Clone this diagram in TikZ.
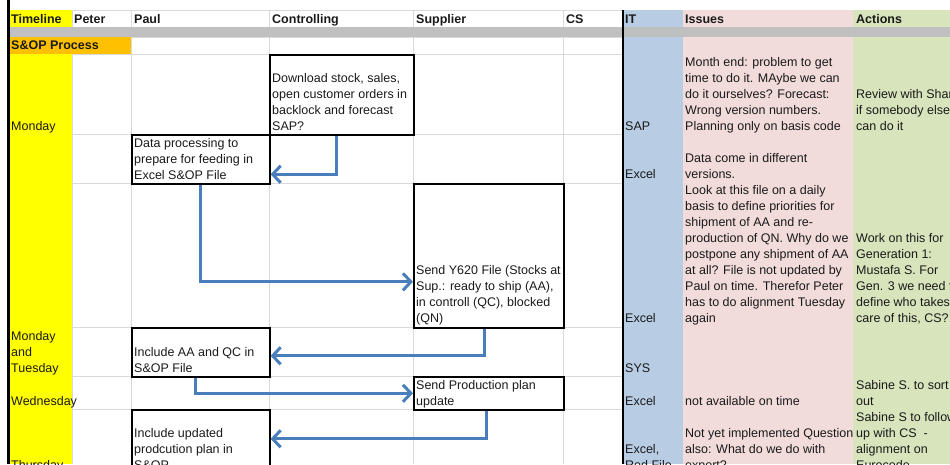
\documentclass[tikz,border=0pt]{standalone}
\usepackage{fontspec}
\setmainfont{Liberation Sans}
\usepackage{tikz}
\usetikzlibrary{arrows.meta,positioning,calc}
\definecolor{timeyellow}{HTML}{FFFF00}
\definecolor{soporange}{HTML}{FFC000}
\definecolor{bandgray}{HTML}{C0C0C0}
\definecolor{gridgray}{HTML}{DADADA}
\definecolor{itblue}{HTML}{B8CCE4}
\definecolor{issuepink}{HTML}{F2DCDB}
\definecolor{actiongreen}{HTML}{D8E4BC}
\definecolor{flowblue}{HTML}{4A7EBB}
\definecolor{inkgray}{HTML}{1A1A1A}

\begin{document}
\begin{tikzpicture}[x=1pt, y=-1pt,
    cell/.style={anchor=base west, inner sep=0pt, align=left, text=inkgray,
                 font=\fontsize{12.5}{16}\selectfont},
    head/.style={cell, font=\fontsize{12.5}{16}\selectfont\bfseries},
    taskbox/.style={rectangle, draw=black, line width=1.6pt, inner sep=0pt,
                    anchor=north west},
    grid/.style={draw=gridgray, line width=0.8pt},
    flow/.style={draw=flowblue, line width=3pt,
                 -{Straight Barb[length=8pt, width=17pt]}}
]
\useasboundingbox (0,0) rectangle (950,464);
\clip (0,0) rectangle (950,464);

% sheet grid
\foreach \gy in {10,27,37,54,134,183,327,376,409}
  \draw[grid] (10,\gy) -- (622,\gy);
\foreach \gx in {72,131,269,413,563}
  \draw[grid] (\gx,10) -- (\gx,464);

% coloured columns
\fill[timeyellow] (10,10) rectangle (72,27);
\fill[timeyellow] (10,54) rectangle (72,464);
\fill[soporange] (10,37) rectangle (131,54);
\fill[itblue] (623,10) rectangle (683,464);
\fill[issuepink] (683,10) rectangle (853,464);
\fill[actiongreen] (853,10) rectangle (950,464);
\fill[bandgray] (10,27) rectangle (950,37);
\draw[black, line width=2.5pt] (8.5,0) -- (8.5,464);
\draw[black, line width=2.5pt] (623,10) -- (623,464);

% header
\node[head] (hTime) at (11,23) {Timeline};
\node[head] (hPeter) at (74,23) {Peter};
\node[head] (hPaul) at (134,23) {Paul};
\node[head] (hCtrl) at (272,23) {Controlling};
\node[head] (hSup) at (416,23) {Supplier};
\node[head] (hCS) at (566,23) {CS};
\node[head] (hIT) at (625,23) {IT};
\node[head] (hIss) at (685,23) {Issues};
\node[head] (hAct) at (856,23) {Actions};
\node[head] (sop) at (11,49.5) {S\&OP Process};

% timeline (y = baseline of last line)
\node[cell] (tMon) at (11,130) {Monday};
\node[cell] (tMonTue) at (11,372) {Monday\\and\\Tuesday};
\node[cell] (tWed) at (11,405) {Wednesday};
\node[cell] (tThu) at (11,469) {Thursday};

% process steps
\node[taskbox, minimum width=144pt, minimum height=80pt] (dl) at (269,54) {};
\node[cell] (dlText) at (272,130) {Download stock, sales,\\open customer orders in\\backlock and forecast\\SAP?};
\node[taskbox, minimum width=138pt, minimum height=49pt] (dp) at (131,134) {};
\node[cell] (dpText) at (134,179) {Data processing to\\prepare for feeding in\\Excel S\&OP File};
\node[taskbox, minimum width=150pt, minimum height=144pt] (yf) at (413,183) {};
\node[cell] (yfText) at (416,322.5) {Send Y620 File (Stocks at\\Sup.: ready to ship (AA),\\in controll (QC), blocked\\(QN)};
\node[taskbox, minimum width=138pt, minimum height=49pt] (inc) at (131,327) {};
\node[cell] (incText) at (134,372) {Include AA and QC in\\S\&OP File};
\node[taskbox, minimum width=150pt, minimum height=33pt] (pp) at (413,376) {};
\node[cell] (ppText) at (416,405) {Send Production plan\\update};
\node[taskbox, minimum width=138pt, minimum height=64pt] (up) at (131,409) {};
\node[cell] (upText) at (134,469) {Include updated\\prodcution plan in\\S\&OP};

\draw[flow] ([xshift=-5pt]dl.south) |- ([yshift=-15pt]dp.east);
\draw[flow] (dp.south) |- ([yshift=-26pt]yf.west);
\draw[flow] ([xshift=-4pt]yf.south) |- ([yshift=-3.5pt]inc.east);
\draw[flow] ([xshift=-5pt]inc.south) |- (pp.west);
\draw[flow] ([xshift=-2pt]pp.south) |- ([yshift=3pt]up.east);

% IT
\node[cell] (itSap) at (625,130) {SAP};
\node[cell] (itExA) at (625,178.5) {Excel};
\node[cell] (itExB) at (625,322.5) {Excel};
\node[cell] (itSys) at (625,372) {SYS};
\node[cell] (itExC) at (625,405) {Excel};
\node[cell] (itExD) at (625,469) {Excel,\\Red File};

% issues
\node[cell] (issA) at (685,130.5) {Month end: problem to get\\time to do it. MAybe we can\\do it ourselves? Forecast:\\Wrong version numbers.\\Planning only on basis code};
\node[cell] (issB) at (685,322.5) {Data come in different\\versions.\\Look at this file on a daily\\basis to define priorities for\\shipment of AA and re-\\production of QN. Why do we\\postpone any shipment of AA\\at all? File is not updated by\\Paul on time. Therefor Peter\\has to do alignment Tuesday\\again};
\node[cell] (issC) at (685,405) {not available on time};
\node[cell] (issD) at (685,469) {Not yet implemented Question\\also: What do we do with\\export?};

% actions
\node[cell] (actA) at (856,130.5) {Review with Shan\\if somebody else\\can do it};
\node[cell] (actB) at (856,322.5) {Work on this for\\Generation 1:\\Mustafa S. For\\Gen. 3 we need to\\define who takes\\care of this, CS?};
\node[cell] (actC) at (856,405) {Sabine S. to sort\\out};
\node[cell] (actD) at (856,469) {Sabine S to follow\\up with CS\ \ -\\alignment on\\Eurocode};
\end{tikzpicture}
\end{document}
